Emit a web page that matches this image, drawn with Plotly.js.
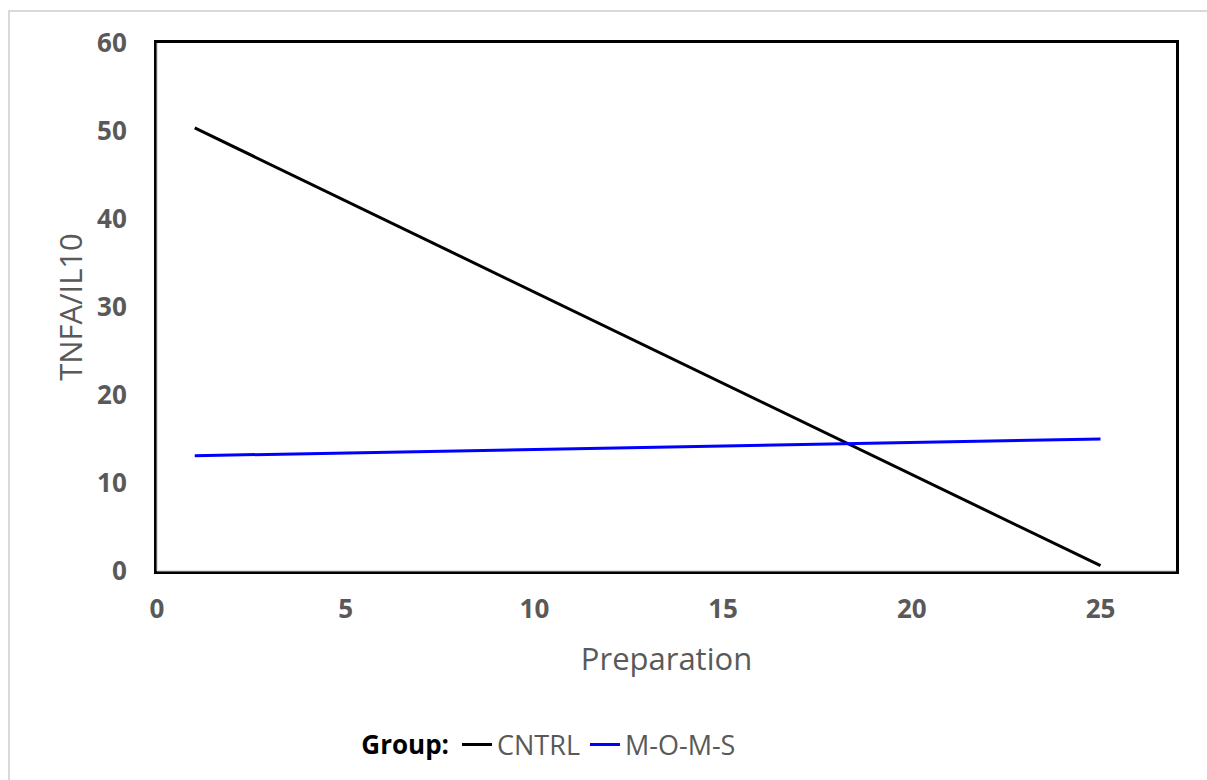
<!DOCTYPE html>
<html>
<head>
<meta charset="utf-8">
<script src="https://cdn.plot.ly/plotly-3.0.1.min.js"></script>
<style>
html,body{margin:0;padding:0;background:#fff;}
#wrap{position:relative;width:1207px;height:780px;}
#frame{position:absolute;left:8px;top:10px;width:1199px;height:770px;border-top:2px solid #d9d9d9;border-left:2px solid #d9d9d9;box-sizing:border-box;pointer-events:none;}
#chart{position:absolute;left:0;top:0;width:1207px;height:780px;}
</style>
</head>
<body>
<div id="wrap"><div id="chart"></div><div id="frame"></div></div>
<script>
const seriesNames = ["CNTRL", "M-O-M-S"];
const cntrlX = [1, 25];
const cntrlY = [50.35, 0.6];
const momsX = [1, 25];
const momsY = [13.1, 15.0];
const xTicks = [0, 5, 10, 15, 20, 25];
const yTicks = [0, 10, 20, 30, 40, 50, 60];

const tickFont = {family: "Open Sans, sans-serif", size: 26, color: "#595959", weight: 700};

const traces = [
  {x: cntrlX, y: cntrlY, name: seriesNames[0], type: "scatter", mode: "lines",
   line: {color: "#000000", width: 3}},
  {x: momsX, y: momsY, name: seriesNames[1], type: "scatter", mode: "lines",
   line: {color: "#0000FF", width: 3}}
];

const layout = {
  width: 1207, height: 780,
  margin: {l: 157, r: 31, t: 43, b: 208},
  paper_bgcolor: "#ffffff", plot_bgcolor: "#ffffff",
  showlegend: true,
  xaxis: {
    range: [0, 27], tickvals: xTicks, ticktext: xTicks.map(String),
    showgrid: false, zeroline: false, ticks: "",
    showline: true, linecolor: "#000", linewidth: 3, mirror: true,
    tickfont: tickFont, ticklabelstandoff: 13,
    title: {text: "Preparation", font: {family: "Open Sans, sans-serif", size: 31, color: "#595959"}, standoff: 24}
  },
  yaxis: {
    range: [0, 60], tickvals: yTicks, ticktext: yTicks.map(String),
    showgrid: false, zeroline: false, ticks: "",
    showline: true, linecolor: "#000", linewidth: 3, mirror: true,
    tickfont: tickFont, ticklabelstandoff: 22,
    title: {text: "TNFA/IL10", font: {family: "Open Sans, sans-serif", size: 31, color: "#595959"}, standoff: 6}
  },
  legend: {
    orientation: "h", x: 0.386, xanchor: "center", y: -0.327, yanchor: "middle",
    font: {family: "Open Sans, sans-serif", size: 27, color: "#595959"},
    title: {text: "<b>Group:</b>", side: "left", font: {family: "Open Sans, sans-serif", size: 26, color: "#000"}},
    itemwidth: 30, tracegroupgap: 0
  },
  shapes: [
    {type: "line", xref: "paper", yref: "paper", x0: 0, x1: 0, y0: 0, y1: 1, line: {color: "#c0c0c0", width: 1}, layer: "above"},
    {type: "line", xref: "paper", yref: "paper", x0: 0, x1: 1, y0: 0, y1: 0, line: {color: "#c0c0c0", width: 1}, layer: "above"}
  ]
};

Plotly.newPlot("chart", traces, layout, {displayModeBar: false, staticPlot: true});
</script>
</body>
</html>
